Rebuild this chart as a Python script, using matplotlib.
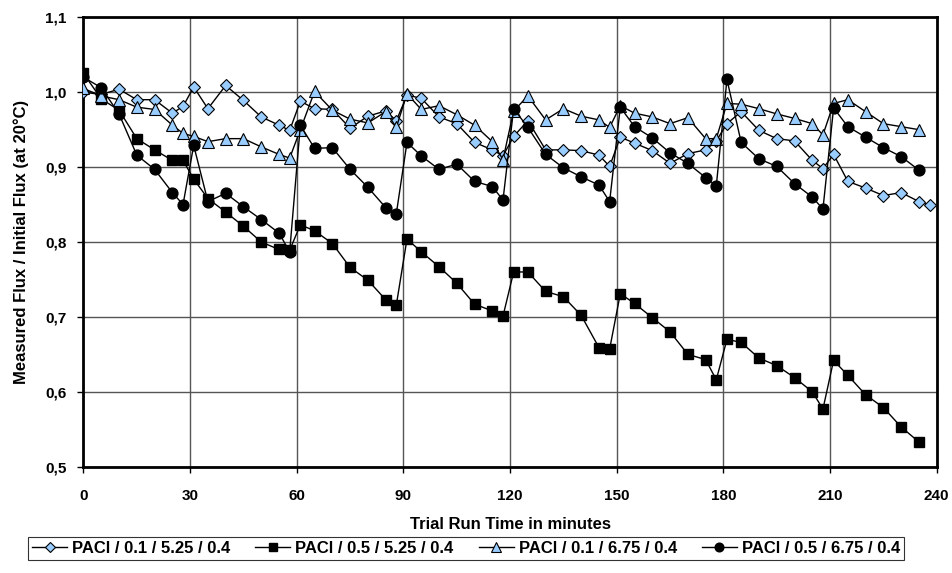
import numpy as np
import matplotlib.pyplot as plt
from matplotlib.ticker import FuncFormatter

plt.rcParams['font.family'] = ['Liberation Sans', 'DejaVu Sans']
plt.rcParams['font.weight'] = 'bold'

# sampling times (minutes); backwash roughly every 30 min
t = [0, 5, 10, 15, 20, 25, 28, 31, 35, 40, 45, 50, 55, 58, 61, 65, 70, 75, 80,
     85, 88, 91, 95, 100, 105, 110, 115, 118, 121, 125, 130, 135, 140, 145,
     148, 151, 155, 160, 165, 170, 175, 178, 181, 185, 190, 195, 200, 205,
     208, 211, 215, 220, 225, 230, 235]
t_d = t + [238]

flux_01_525 = [1.000, 0.997, 1.004, 0.990, 0.990, 0.972, 0.981, 1.007, 0.978,
               1.009, 0.989, 0.967, 0.956, 0.949, 0.988, 0.978, 0.977, 0.952,
               0.968, 0.975, 0.962, 0.996, 0.992, 0.967, 0.958, 0.933, 0.923,
               0.915, 0.941, 0.962, 0.923, 0.923, 0.922, 0.916, 0.901, 0.940,
               0.932, 0.922, 0.905, 0.918, 0.923, 0.935, 0.958, 0.974, 0.949,
               0.938, 0.935, 0.909, 0.898, 0.917, 0.881, 0.872, 0.862, 0.866,
               0.854, 0.849]
flux_05_525 = [1.025, 0.991, 0.976, 0.938, 0.923, 0.909, 0.909, 0.884, 0.858,
               0.840, 0.821, 0.800, 0.790, 0.789, 0.823, 0.815, 0.798, 0.766,
               0.749, 0.723, 0.716, 0.804, 0.787, 0.767, 0.745, 0.717, 0.708,
               0.701, 0.760, 0.760, 0.734, 0.727, 0.702, 0.659, 0.657, 0.731,
               0.718, 0.699, 0.680, 0.650, 0.643, 0.616, 0.670, 0.666, 0.645,
               0.635, 0.619, 0.600, 0.577, 0.642, 0.622, 0.596, 0.579, 0.553,
               0.533]
flux_01_675 = [1.005, 0.995, 0.990, 0.980, 0.977, 0.956, 0.945, 0.941, 0.934,
               0.938, 0.938, 0.927, 0.917, 0.912, 0.950, 1.001, 0.976, 0.964,
               0.959, 0.974, 0.953, 0.998, 0.977, 0.982, 0.970, 0.956, 0.934,
               0.910, 0.975, 0.995, 0.963, 0.978, 0.968, 0.963, 0.953, 0.982,
               0.972, 0.967, 0.958, 0.966, 0.938, 0.938, 0.985, 0.984, 0.978,
               0.971, 0.965, 0.958, 0.943, 0.985, 0.990, 0.974, 0.958, 0.954,
               0.950]
flux_05_675 = [1.020, 1.006, 0.971, 0.916, 0.897, 0.866, 0.850, 0.929, 0.854,
               0.865, 0.847, 0.830, 0.812, 0.787, 0.956, 0.925, 0.926, 0.897,
               0.873, 0.846, 0.838, 0.933, 0.915, 0.897, 0.904, 0.881, 0.874,
               0.856, 0.978, 0.953, 0.917, 0.899, 0.887, 0.876, 0.854, 0.980,
               0.954, 0.939, 0.919, 0.905, 0.886, 0.875, 1.017, 0.933, 0.911,
               0.901, 0.878, 0.860, 0.844, 0.979, 0.954, 0.940, 0.926, 0.914,
               0.896]

labels = ['PACl / 0.1 / 5.25 / 0.4', 'PACl / 0.5 / 5.25 / 0.4',
          'PACl / 0.1 / 6.75 / 0.4', 'PACl / 0.5 / 6.75 / 0.4']
blue = '#99CCFF'

fig = plt.figure(figsize=(9.53, 5.73), dpi=100)
ax = fig.add_axes([0.0876, 0.1855, 0.8953, 0.7843])

ax.plot(t_d, flux_01_525, '-', color='black', lw=1, marker='D', ms=5.8,
        mfc=blue, mec='black', mew=0.8, label=labels[0], zorder=3)
ax.plot(t, flux_05_525, '-', color='black', lw=1, marker='s', ms=7,
        mfc='black', mec='black', label=labels[1], zorder=3)
ax.plot(t, flux_01_675, '-', color='black', lw=1, marker='^', ms=8.5,
        mfc=blue, mec='black', mew=0.8, label=labels[2], zorder=3)
ax.plot(t, flux_05_675, '-', color='black', lw=1, marker='o', ms=7.8,
        mfc='black', mec='black', label=labels[3], zorder=3)

ax.set_xlim(0, 240)
ax.set_ylim(0.5, 1.1)
ax.set_xticks(np.arange(0, 241, 30))
ax.set_yticks(np.arange(0.5, 1.101, 0.1))
ax.yaxis.set_major_formatter(FuncFormatter(lambda v, p: f'{v:.1f}'.replace('.', ',')))
ax.grid(True, color='#555555', lw=1)
ax.set_axisbelow(True)
for s in ax.spines.values():
    s.set_linewidth(2)
ax.tick_params(axis='x', direction='out', length=4, width=1, labelsize=11, pad=12)
ax.tick_params(axis='y', direction='out', length=4, width=1, labelsize=11, pad=8)
for lab in ax.get_xticklabels() + ax.get_yticklabels():
    lab.set_fontweight('bold')

ax.set_xlabel('Trial Run Time in minutes', fontsize=12, fontweight='bold', labelpad=10)
ax.set_ylabel('Measured Flux / Initial Flux (at 20°C)', fontsize=12,
              fontweight='bold', labelpad=12)

leg = fig.legend(loc='center', bbox_to_anchor=(0.489, 0.043), ncol=4,
                 fontsize=12, frameon=True, fancybox=False, handlelength=2.1,
                 handletextpad=0.3, columnspacing=1.5, borderpad=0.25,
                 markerscale=0.8)
leg.get_frame().set_edgecolor('black')
leg.get_frame().set_linewidth(0.8)
for txt in leg.get_texts():
    txt.set_fontweight('bold')

fig.savefig('out.png', dpi=100)
